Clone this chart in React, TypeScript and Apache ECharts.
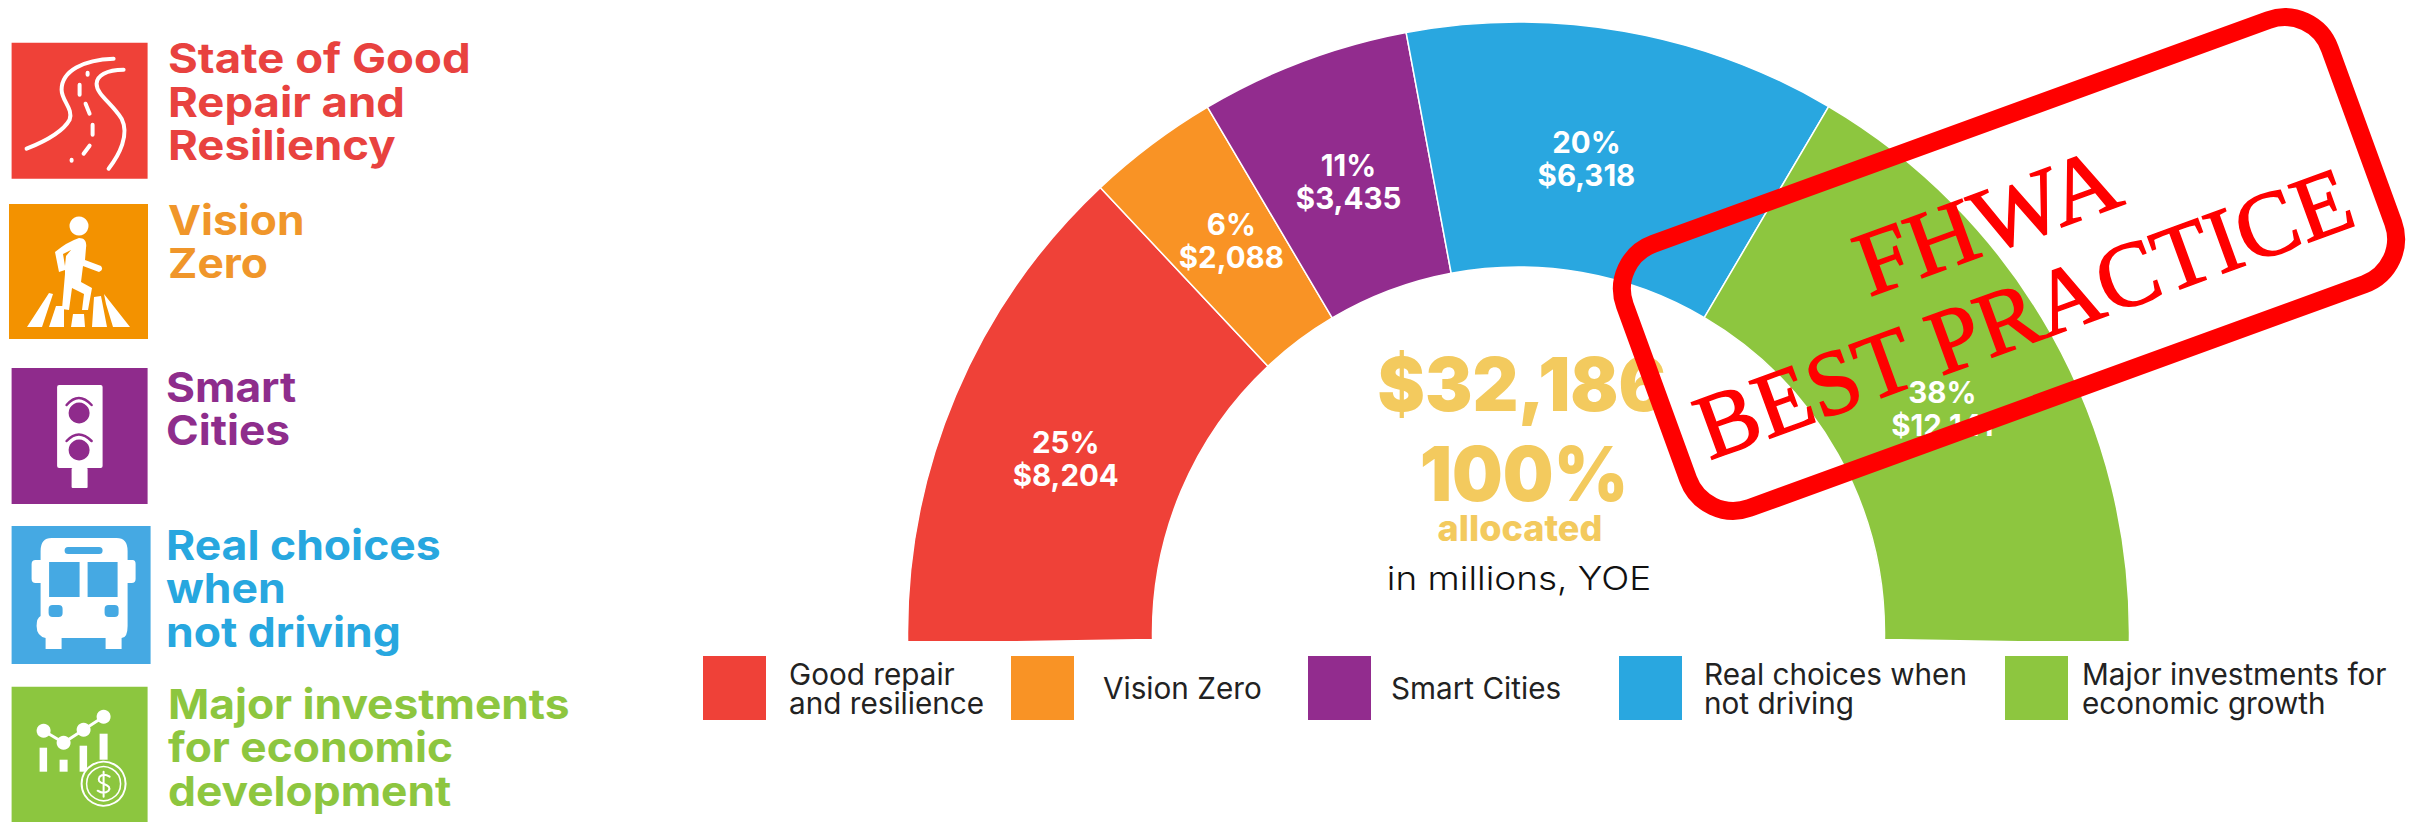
import React, { useEffect, useRef } from "react";
import * as echarts from "echarts";

const W = 2410;
const H = 822;

const categories = [
  "Good repair\nand resilience",
  "Vision Zero",
  "Smart Cities",
  "Real choices when\nnot driving",
  "Major investments for\neconomic growth",
];
// Arc spans as drawn in the picture, in degrees (the ring runs one degree past each end; a white band trims it flat)
const sliceDegrees = [47.8, 12.6, 20, 41.1, 60.5];
const percentLabels = ["25%", "6%", "11%", "20%", "38%"];
const dollarLabels = ["$8,204", "$2,088", "$3,435", "$6,318", "$12,141"];
const sliceColors = ["#ef4138", "#f99325", "#922c8e", "#29a7e0", "#8dc63f"];
const labelOffsets = [[0, 17], [8, 1], [3, 9], [-17, 10], [-5, 16]];
const legendLeft = [701, 1009, 1306, 1617, 2003];
const legendTextPad = [17, 23, 14, 16, 8];

const themeLines = [
  ["State of Good", "Repair and", "Resiliency"],
  ["Vision", "Zero"],
  ["Smart", "Cities"],
  ["Real choices", "when", "not driving"],
  ["Major investments", "for economic", "development"],
];
const themeColors = ["#e8423f", "#f0962a", "#8e2d8c", "#27a7df", "#8dc63f"];
const iconColors = ["#ef4138", "#f39200", "#8f2b8c", "#45a9e3", "#8cc63f"];
const iconBoxes = [
  [11.6, 42.7, 136, 136],
  [9, 204, 139, 135],
  [11.6, 368, 136, 136],
  [11.6, 526, 139, 138],
  [11.6, 686.7, 136, 136],
];
const themeTextX = [168, 168, 166, 166, 168];
const themeTextY = [58, 220, 387, 545, 704];
const themeScale = [1.11, 1.08, 1.08, 1.085, 1.08];

const totalLabel = "$32,186";
const shareLabel = "100%";
const allocatedLabel = "allocated";
const unitLabel = "in millions, YOE";
const stampLines = ["FHWA", "BEST PRACTICE"];

const reg = (name: string, d: string) =>
  echarts.graphic.registerShape(name, echarts.graphic.extendPath(d, {}));

reg("roadEdges", "M15 106 C35 98 52 88 58 77 C62 66 50 58 50 47 C50 28 72 17 102 16 M112 27 C95 27 85 33 85 41 C85 52 100 60 110 76 C118 92 108 112 97 126");
reg("roadDashes", "M76 30 L76 32 M68 42 L68 52 M74 61 L78 71 M81 82 L81 92 M78 103 L72 111 M60 117 L60 118");
reg("walker", "M70 34 C76 34 78 38 77 44 L76 56 L92 62 Q95 66 90 68 L74 62 L72 78 L83 84 L79 106 L73 106 L75 90 L63 84 L60 106 L53 105 L56 70 L56 66 L50 68 L46 48 Q58 38 70 34 Z M54 50 L56 62 L57 52 L62 46 Z");
reg("stripes", "M18 123 L33 123 L44 90 L40 89 Z M40 123 L55 123 L55 102 L47 102 Z M62 123 L76 123 L75 110 L64 110 Z M83 123 L98 123 L92 92 L85 93 Z M104 123 L121 123 L95 90 L97 100 Z");
reg("lightArcs", "M55 37 Q67 23 80 37 M55 73 Q67 60 80 73");
reg("busBody", "M40 12 L105 12 Q116 12 116 25 L116 34 L121 34 Q124 34 124 38 L124 53 Q124 57 120 57 L116 57 L116 100 Q116 112 110 112 L110 123 L94 123 L94 112 L50 112 L50 123 L34 123 L34 112 Q25 110 25 100 Q25 92 29 90 L29 57 L24 57 Q20 57 20 53 L20 38 Q20 34 24 34 L29 34 L29 25 Q29 12 40 12 Z");
reg("trendLine", "M32 44 L52 56 L72 43 L92 30");
reg("dollarSign", "M98 90 Q92 86 88 90 Q85 95 92 97 Q100 100 97 104 Q92 108 86 104 M92 85 L92 110");

function rectEl(x: number, y: number, w: number, h: number, fill: string, r = 0) {
  return { type: "rect", shape: { x, y, width: w, height: h, r }, style: { fill } };
}
function circleEl(cx: number, cy: number, r: number, fill: string, stroke?: string, lineWidth = 0) {
  return { type: "circle", shape: { cx, cy, r }, style: { fill, stroke, lineWidth } };
}
function strokeShape(type: string, width: number, stroke = "#fff") {
  return { type, style: { fill: "none", stroke, lineWidth: width, lineCap: "round", lineJoin: "round" } };
}
function fillShape(type: string, fill = "#fff") {
  return { type, style: { fill } };
}

function iconChildren(i: number): any[] {
  const c = iconColors[i];
  switch (i) {
    case 0:
      return [strokeShape("roadEdges", 4), strokeShape("roadDashes", 4)];
    case 1:
      return [circleEl(70, 22, 9.5, "#fff"), fillShape("walker"), fillShape("stripes")];
    case 2:
      return [
        rectEl(45.5, 17, 45.5, 83, "#fff", 2),
        rectEl(60, 100, 16, 20, "#fff", 1),
        circleEl(67.5, 45, 10.5, c),
        circleEl(67.5, 82, 10.5, c),
        strokeShape("lightArcs", 2.5, c),
      ];
    case 3:
      return [
        fillShape("busBody"),
        rectEl(53, 21, 38, 7, c, 3.5),
        rectEl(37.5, 36, 30.5, 35, c),
        rectEl(76, 36, 30, 35, c),
        rectEl(37, 79, 14, 12, c, 4),
        rectEl(93, 79, 14, 12, c, 4),
      ];
    default:
      return [
        rectEl(28, 61, 7.5, 24, "#fff"),
        rectEl(48, 73, 8, 12, "#fff"),
        rectEl(68, 59, 7.5, 26, "#fff"),
        rectEl(88, 47, 8, 26, "#fff"),
        strokeShape("trendLine", 3),
        circleEl(32, 44, 7, "#fff"),
        circleEl(52, 56, 7, "#fff"),
        circleEl(72, 43, 7, "#fff"),
        circleEl(92, 30, 7, "#fff"),
        circleEl(92, 97, 22, c, "#fff", 2),
        circleEl(92, 97, 17, c, "#fff", 1.5),
        strokeShape("dollarSign", 2),
      ];
  }
}

function lineText(text: string, x: number, y: number, font: string, fill: string, align = "left", scaleX = 1) {
  return {
    type: "text",
    x,
    y,
    scaleX,
    z: 10,
    style: { text, font, fill, textAlign: align, textVerticalAlign: "middle" },
  };
}

function buildOption() {
  const graphics: any[] = [];
  // trims the ring's lower ends to a flat edge
  graphics.push({ type: "rect", z: 5, shape: { x: 895, y: 641, width: 1250, height: 12 }, style: { fill: "#fff" } });

  iconBoxes.forEach((b, i) => {
    graphics.push({
      type: "group",
      x: b[0],
      y: b[1],
      children: [rectEl(0, 0, b[2], b[3], iconColors[i]), ...iconChildren(i)],
    });
    themeLines[i].forEach((t, j) => {
      graphics.push(
        lineText(t, themeTextX[i], themeTextY[i] + j * 43.6, "700 41px Inter", themeColors[i], "left", themeScale[i])
      );
    });
  });

  const gold = "#f3ca5e";
  graphics.push(lineText(totalLabel, 1522, 384, "900 74px Inter", gold, "center", 0.96));
  graphics.push(lineText(shareLabel, 1524, 474, "900 76px Inter", gold, "center", 0.94));
  graphics.push(lineText(allocatedLabel, 1520, 528, "800 36px Inter", gold, "center"));
  graphics.push(lineText(unitLabel, 1519, 578, "300 33px Inter", "#111", "center", 1.12));

  const stampFont = "400 92px 'Liberation Serif'";
  graphics.push({
    type: "group",
    x: 2009,
    y: 264,
    rotation: (20 * Math.PI) / 180,
    z: 100,
    children: [
      {
        type: "rect",
        z: 100,
        shape: { x: -375, y: -140.5, width: 750, height: 281, r: 48 },
        style: { fill: "none", stroke: "#ff0000", lineWidth: 18 },
      },
      {
        type: "text",
        z: 101,
        x: -6,
        y: -48,
        scaleX: 1.05,
        style: { text: stampLines[0], font: stampFont, fill: "#ff0000", stroke: "#ff0000", lineWidth: 1.5, textAlign: "center", textVerticalAlign: "middle" },
      },
      {
        type: "text",
        z: 101,
        x: -3,
        y: 51,
        style: { text: stampLines[1], font: stampFont, fill: "#ff0000", stroke: "#ff0000", lineWidth: 1.5, textAlign: "center", textVerticalAlign: "middle" },
      },
    ],
  });

  return {
    animation: false,
    backgroundColor: "#fff",
    legend: categories.map((name, i) => ({
      data: [name],
      left: legendLeft[i],
      top: 654,
      padding: 0,
      icon: "rect",
      itemWidth: 65,
      itemHeight: 66,
      selectedMode: false,
      textStyle: {
        fontFamily: "Inter",
        fontSize: 29.7,
        lineHeight: 29,
        color: "#222",
        padding: [0, 0, 0, legendTextPad[i]],
      },
    })),
    series: [
      {
        type: "pie",
        center: [1518.5, 633],
        radius: [366, 611],
        startAngle: 181,
        endAngle: -1,
        clockwise: true,
        silent: true,
        avoidLabelOverlap: false,
        itemStyle: { borderColor: "#fff", borderWidth: 1.5 },
        labelLine: { show: false },
        data: categories.map((name, i) => ({
          name,
          value: sliceDegrees[i],
          itemStyle: { color: sliceColors[i] },
          label: {
            show: true,
            position: "inside",
            offset: labelOffsets[i],
            formatter: `${percentLabels[i]}\n${dollarLabels[i]}`,
            fontFamily: "Inter",
            fontWeight: 700,
            fontSize: 29.5,
            lineHeight: 33,
            color: "#fff",
          },
        })),
      },
    ],
    graphic: { elements: graphics },
  };
}

export default function App() {
  const ref = useRef<HTMLDivElement>(null);
  useEffect(() => {
    const chart = echarts.init(ref.current!, undefined, { renderer: "svg", width: W, height: H });
    chart.setOption(buildOption() as any);
    return () => chart.dispose();
  }, []);
  return <div ref={ref} style={{ position: "absolute", left: 0, top: 0, width: W, height: H }} />;
}
